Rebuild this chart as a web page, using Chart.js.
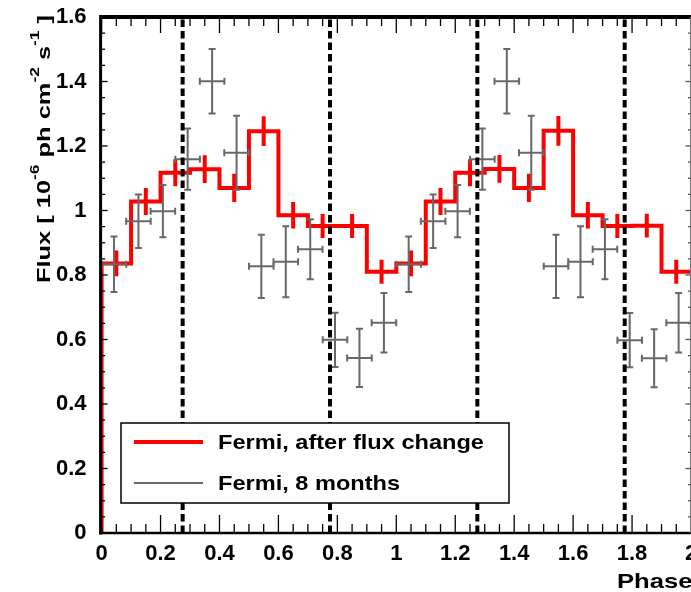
<!DOCTYPE html>
<html>
<head>
<meta charset="utf-8">
<script src="https://cdn.jsdelivr.net/npm/chart.js@4.4.1/dist/chart.umd.min.js"></script>
<style>
  html, body { margin: 0; padding: 0; background: #fff; }
  #wrap { width: 691px; height: 592px; }
</style>
</head>
<body>
<div id="wrap"><canvas id="lc" width="691" height="592"></canvas></div>
<script>
// Fermi, after flux change: 0.1 wide phase bins
const redCenters = [0.05, 0.15, 0.25, 0.35, 0.45, 0.55, 0.65, 0.75, 0.85, 0.95,
                    1.05, 1.15, 1.25, 1.35, 1.45, 1.55, 1.65, 1.75, 1.85, 1.95];
const redFlux = [0.836, 1.028, 1.117, 1.128, 1.070, 1.246, 0.985, 0.952, 0.952, 0.810,
                 0.836, 1.028, 1.117, 1.129, 1.070, 1.247, 0.985, 0.952, 0.953, 0.810];
const redErr = [0.040, 0.042, 0.042, 0.043, 0.044, 0.046, 0.041, 0.037, 0.037, 0.037,
                0.040, 0.042, 0.042, 0.043, 0.044, 0.046, 0.041, 0.037, 0.037, 0.037];
const redHalfWidth = 0.05;

// Fermi, 8 months: 1/12 wide phase bins
const grayCenters = [0.042, 0.125, 0.208, 0.292, 0.375, 0.458, 0.542, 0.625, 0.708, 0.792, 0.875, 0.958,
                     1.042, 1.125, 1.208, 1.292, 1.375, 1.458, 1.542, 1.625, 1.708, 1.792, 1.875, 1.958];
const grayFlux = [0.833, 0.967, 0.998, 1.159, 1.401, 1.179, 0.827, 0.841, 0.880, 0.599, 0.543, 0.652,
                  0.833, 0.967, 0.998, 1.159, 1.401, 1.179, 0.827, 0.841, 0.880, 0.598, 0.542, 0.652];
const grayErr = [0.086, 0.083, 0.081, 0.095, 0.100, 0.115, 0.098, 0.110, 0.093, 0.084, 0.090, 0.092,
                 0.086, 0.083, 0.081, 0.095, 0.100, 0.115, 0.098, 0.110, 0.093, 0.084, 0.090, 0.092];
const grayHalfWidth = 0.0417;

// dashed phase markers
const phaseMarks = [0.275, 0.775, 1.275, 1.775];

const xTickLabels = ['0', '0.2', '0.4', '0.6', '0.8', '1', '1.2', '1.4', '1.6', '1.8', '2'];
const yTickLabels = ['0', '0.2', '0.4', '0.6', '0.8', '1', '1.2', '1.4', '1.6'];

const FONT = '"Liberation Sans", Arial, Helvetica, sans-serif';
const RED = '#ff0000';
const GRAY = '#686868';

// step histogram outline, starting from zero at phase 0
const stepPoints = [{ x: redCenters[0] - redHalfWidth, y: 0 }];
redCenters.forEach(function(c, i) {
    stepPoints.push({ x: c - redHalfWidth, y: redFlux[i] });
    stepPoints.push({ x: c + redHalfWidth, y: redFlux[i] });
});

function tickLabel(list, v) {
    const s = String(Math.round(v * 10) / 10);
    return list.indexOf(s) >= 0 ? s : '';
}

function line(ctx, x1, y1, x2, y2) {
    ctx.beginPath();
    ctx.moveTo(x1, y1);
    ctx.lineTo(x2, y2);
    ctx.stroke();
}

function stretched(ctx, text, x, y, size, sx) {
    ctx.save();
    ctx.font = 'bold ' + size + 'px ' + FONT;
    ctx.translate(x, y);
    ctx.scale(sx, 1);
    ctx.textBaseline = 'alphabetic';
    ctx.textAlign = 'left';
    ctx.fillText(text, 0, 0);
    ctx.restore();
}

const extras = {
    id: 'extras',
    beforeDraw(chart) {
        const ctx = chart.ctx;
        ctx.save();
        ctx.fillStyle = '#fff';
        ctx.fillRect(0, 0, chart.width, chart.height);
        ctx.restore();
    },
    afterDatasetsDraw(chart) {
        const ctx = chart.ctx;
        const xs = chart.scales.x, ys = chart.scales.y;
        const a = chart.chartArea;
        ctx.save();
        ctx.beginPath();
        ctx.rect(a.left - 2, a.top - 2, a.right - a.left + 4, a.bottom - a.top + 4);
        ctx.clip();

        // red error bars
        ctx.strokeStyle = RED;
        ctx.lineWidth = 4;
        ctx.lineCap = 'butt';
        redCenters.forEach(function(c, i) {
            const px = xs.getPixelForValue(c);
            line(ctx, px, ys.getPixelForValue(redFlux[i] - redErr[i]), px, ys.getPixelForValue(redFlux[i] + redErr[i]));
        });

        // gray points with x and y error bars
        ctx.strokeStyle = GRAY;
        ctx.lineWidth = 2;
        const cap = 3.5;
        grayCenters.forEach(function(c, i) {
            const px = xs.getPixelForValue(c);
            const py = ys.getPixelForValue(grayFlux[i]);
            const x1 = xs.getPixelForValue(c - grayHalfWidth), x2 = xs.getPixelForValue(c + grayHalfWidth);
            const y1 = ys.getPixelForValue(grayFlux[i] - grayErr[i]), y2 = ys.getPixelForValue(grayFlux[i] + grayErr[i]);
            line(ctx, x1, py, x2, py);
            line(ctx, px, y1, px, y2);
            line(ctx, x1, py - cap, x1, py + cap);
            line(ctx, x2, py - cap, x2, py + cap);
            line(ctx, px - cap, y1, px + cap, y1);
            line(ctx, px - cap, y2, px + cap, y2);
        });

        // dashed markers
        ctx.strokeStyle = '#000';
        ctx.lineWidth = 4;
        ctx.setLineDash([7.5, 4]);
        phaseMarks.forEach(function(p) {
            const px = xs.getPixelForValue(p);
            line(ctx, px, a.bottom, px, a.top);
        });
        ctx.setLineDash([]);
        ctx.restore();

        // legend
        ctx.save();
        ctx.fillStyle = '#fff';
        ctx.fillRect(121, 423, 388, 80);
        ctx.strokeStyle = '#000';
        ctx.lineWidth = 1.5;
        ctx.strokeRect(121, 423, 388, 80);
        ctx.strokeStyle = RED;
        ctx.lineWidth = 4;
        line(ctx, 134, 442, 203, 442);
        ctx.strokeStyle = GRAY;
        ctx.lineWidth = 2;
        line(ctx, 134, 483, 203, 483);
        ctx.fillStyle = '#000';
        stretched(ctx, chart.data.datasets[0].label, 218, 448.5, 20.5, 1.15);
        stretched(ctx, chart.data.datasets[1].label, 218, 489.5, 20.5, 1.15);
        ctx.restore();

        // frame and ticks
        ctx.save();
        ctx.strokeStyle = '#000';
        ctx.lineWidth = 1.3;
        for (let k = 0; k <= 40; k++) {
            const v = k * 0.05;
            const px = xs.getPixelForValue(v);
            const major = k % 4 === 0;
            line(ctx, px, a.bottom, px, a.bottom - (major ? 18 : 9));
            line(ctx, px, a.top, px, a.top + (major ? 16 : 9));
        }
        for (let k = 0; k <= 32; k++) {
            const v = k * 0.05;
            const py = ys.getPixelForValue(v);
            const major = k % 4 === 0;
            line(ctx, a.left, py, a.left + (major ? 6 : 3.5), py);
            ctx.strokeStyle = '#555';
            line(ctx, 690.5, py, 690.5 - (major ? 5 : 2.5), py);
            ctx.strokeStyle = '#000';
        }
        ctx.lineWidth = 4;
        line(ctx, a.left - 1.5, a.top, 691, a.top);
        ctx.lineWidth = 3;
        line(ctx, a.left - 1, a.top - 2, a.left - 1, a.bottom + 1.5);
        ctx.lineWidth = 2.5;
        line(ctx, a.left - 2.5, a.bottom, 691, a.bottom);
        ctx.strokeStyle = '#777';
        ctx.lineWidth = 1;
        line(ctx, 690.5, a.top, 690.5, a.bottom);

        // axis titles
        ctx.fillStyle = '#000';
        stretched(ctx, chart.options.scales.x.title.text, 617, 588, 21, 1.22);

        const parts = [['Flux [ 10', false], ['-6', true], [' ph cm', false], ['-2', true],
                       [' s', false], ['-1', true], [' ]', false]];
        const mainSize = 19, supSize = 13;
        let total = 0;
        parts.forEach(function(p) {
            ctx.font = 'bold ' + (p[1] ? supSize : mainSize) + 'px ' + FONT;
            total += ctx.measureText(p[0]).width;
        });
        const sx = 268 / total;
        ctx.translate(49.5, 283);
        ctx.rotate(-Math.PI / 2);
        ctx.scale(sx, 1);
        ctx.textBaseline = 'alphabetic';
        let cx = 0;
        parts.forEach(function(p) {
            ctx.font = 'bold ' + (p[1] ? supSize : mainSize) + 'px ' + FONT;
            ctx.fillText(p[0], cx, p[1] ? -10.5 : 0);
            cx += ctx.measureText(p[0]).width;
        });
        ctx.restore();
    }
};

new Chart(document.getElementById('lc'), {
    type: 'line',
    data: {
        datasets: [{
            label: 'Fermi, after flux change',
            data: stepPoints,
            borderColor: RED,
            backgroundColor: RED,
            borderWidth: 4,
            borderJoinStyle: 'miter',
            borderCapStyle: 'butt',
            pointRadius: 0,
            tension: 0,
            fill: false
        }, {
            label: 'Fermi, 8 months',
            data: grayCenters.map(function(c, i) { return { x: c, y: grayFlux[i] }; }),
            borderColor: GRAY,
            backgroundColor: GRAY,
            showLine: false,
            pointRadius: 0
        }]
    },
    options: {
        responsive: false,
        animation: false,
        devicePixelRatio: 1,
        layout: { autoPadding: false, padding: { top: 17, right: -1.4, bottom: 0, left: 0 } },
        plugins: { legend: { display: false }, tooltip: { enabled: false } },
        scales: {
            x: {
                type: 'linear',
                min: 0,
                max: 2,
                title: { display: false, text: 'Phase' },
                grid: { display: false, drawTicks: false },
                border: { display: false },
                ticks: {
                    stepSize: 0.2,
                    autoSkip: false,
                    maxRotation: 0,
                    padding: 8,
                    color: '#000',
                    font: { family: FONT, size: 22, weight: 'bold' },
                    callback: function(v) { return tickLabel(xTickLabels, v); }
                },
                afterFit: function(scale) {
                    scale.height = 59;
                    scale.paddingLeft = 0;
                    scale.paddingRight = 0;
                }
            },
            y: {
                min: 0,
                max: 1.6,
                grid: { display: false, drawTicks: false },
                border: { display: false },
                ticks: {
                    stepSize: 0.2,
                    autoSkip: false,
                    padding: 15,
                    color: '#000',
                    font: { family: FONT, size: 22, weight: 'bold' },
                    callback: function(v) { return tickLabel(yTickLabels, v); }
                },
                afterFit: function(scale) {
                    scale.width = 101.6;
                    scale.paddingTop = 0;
                    scale.paddingBottom = 0;
                }
            }
        }
    },
    plugins: [extras]
});
</script>
</body>
</html>
